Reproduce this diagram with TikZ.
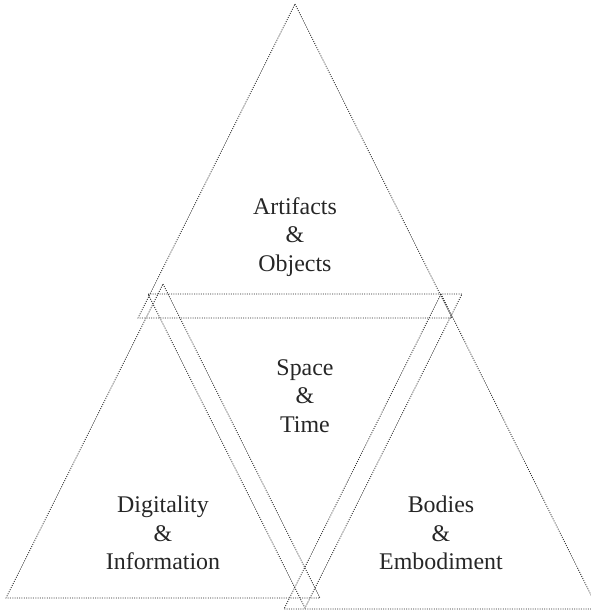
\documentclass[tikz,border=0pt]{standalone}
\usepackage{fontspec}
\setmainfont{Liberation Serif}
\begin{document}
\begin{tikzpicture}[x=1bp,y=-1bp,
  edge/.style={draw=black!85, line width=0.8bp, dash pattern=on 1bp off 1.3bp},
  label/.style={align=center, font=\fontsize{24}{28.5}\selectfont, text=black!85}]
\useasboundingbox (0,0) rectangle (591,611);
% upper triangle
\draw[edge] (295,4) -- (452,318) -- (138,318) -- cycle;
% lower left triangle
\draw[edge] (163,284) -- (320,598) -- (6,598) -- cycle;
% lower right triangle
\draw[edge] (441,294) -- (598,609) -- (284,609) -- cycle;
% central inverted triangle
\draw[edge] (148,294) -- (462,294) -- (305,608) -- cycle;
% labels
\node[label] (artifacts) at (295,237) {Artifacts\\\&\\Objects};
\node[label] (space) at (305,396) {Space\\\&\\Time};
\node[label] (digital) at (163,533) {Digitality\\\&\\Information};
\node[label] (bodies) at (441,533) {Bodies\\\&\\Embodiment};
\end{tikzpicture}
\end{document}
